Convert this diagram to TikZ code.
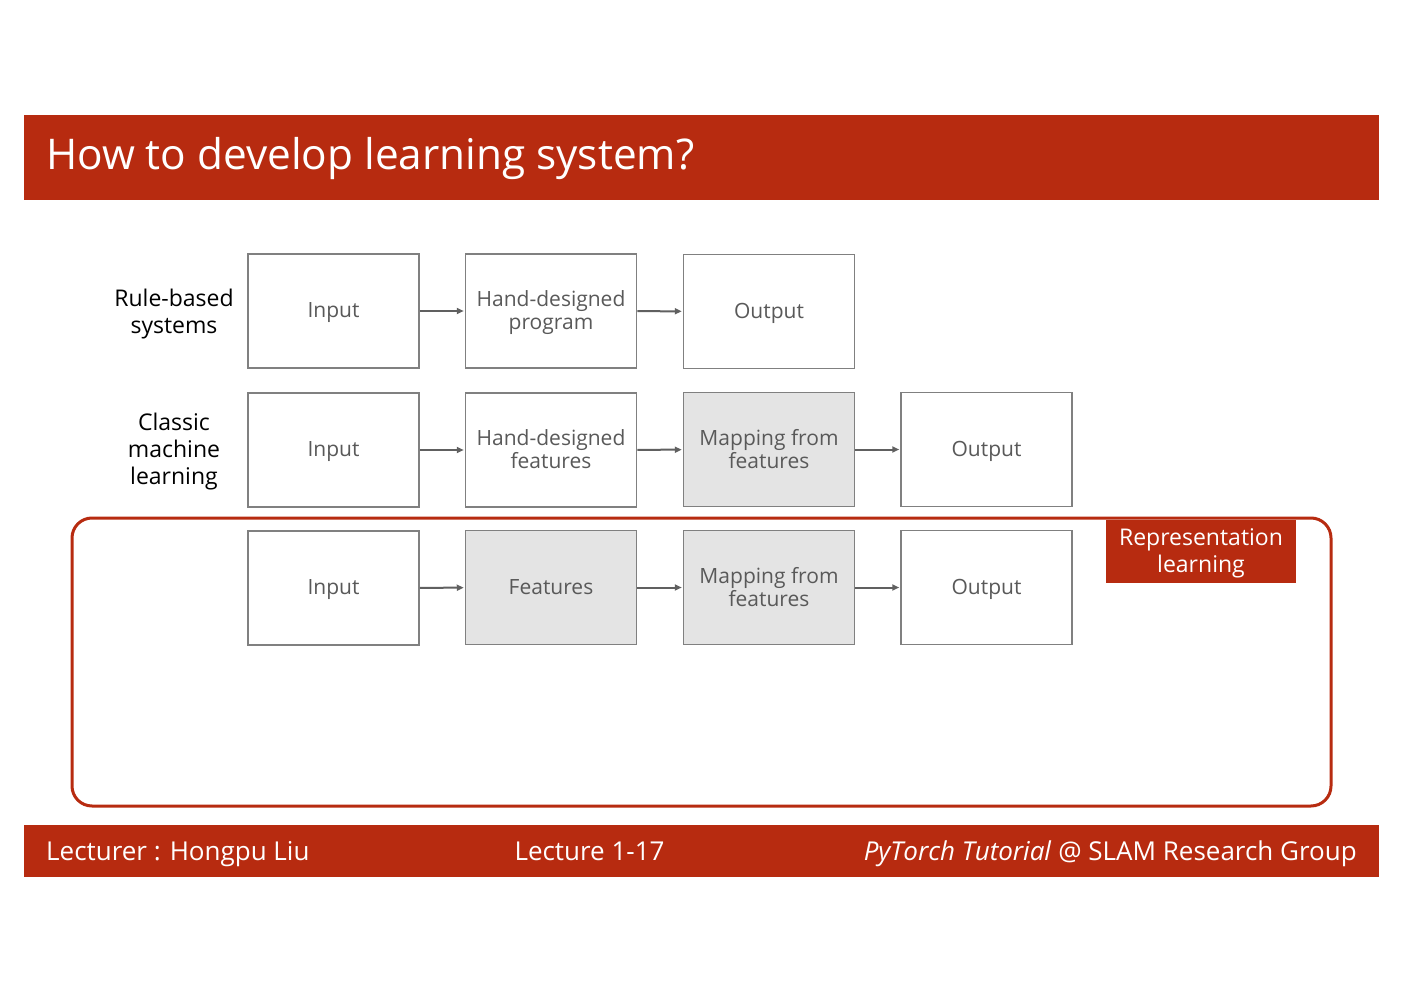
\documentclass[tikz,border=0pt]{standalone}
\usepackage{fontspec}
\setmainfont{Open Sans}
\definecolor{slidered}{RGB}{183,43,16}
\definecolor{boxline}{RGB}{128,128,128}
\definecolor{boxtext}{RGB}{89,89,89}
\definecolor{boxgray}{RGB}{228,228,228}
\definecolor{arrgray}{RGB}{96,96,96}
\usetikzlibrary{arrows.meta}
\begin{document}
\begin{tikzpicture}[x=1pt, y=-1pt,
    blk/.style={draw=boxline, line width=1.5pt, fill=white, minimum width=171pt,
                minimum height=114pt, align=center, text=boxtext,
                font=\fontsize{21}{23}\selectfont, inner sep=0pt, text depth=1pt},
    gblk/.style={blk, fill=boxgray},
    lbl/.style={align=center, font=\fontsize{23}{27}\selectfont},
    arr/.style={-{Triangle[length=7pt, width=6pt]}, draw=arrgray, line width=2pt, shorten >=1pt},
    bartxt/.style={text=white, inner sep=0pt, font=\fontsize{26}{30}\selectfont}
]
\useasboundingbox (0,0) rectangle (1403,992);

% header and footer
\fill[slidered] (24,115) rectangle (1379,200);
\node[bartxt, anchor=base west, font=\fontsize{42.3}{48}\selectfont] (title) at (46,170) {How to develop learning system?};
\fill[slidered] (24,825) rectangle (1379,877);
\node[bartxt, anchor=base west] (lect) at (46,860) {Lecturer : Hongpu Liu};
\node[bartxt, anchor=base] (num) at (589.5,860) {Lecture 1-17};
\node[bartxt, anchor=base east] (grp) at (1357,860) {\textit{PyTorch Tutorial} @ SLAM Research Group};

% representation learning frame
\draw[slidered, line width=3pt, rounded corners=20pt] (72,518) rectangle (1331,806);
\node[fill=slidered, text=white, minimum width=190pt, minimum height=63pt, align=center,
      inner sep=0pt, font=\fontsize{23}{27}\selectfont] (rep) at (1201,551.5) {\rule{0pt}{21pt}Representation\\learning};

% row labels
\node[lbl] (rule) at (174,314) {Rule-based\\systems};
\node[lbl] (classic) at (174,452) {Classic\\machine\\learning};

% rule-based row
\node[blk] (inA)  at (333.5,311) {Input};
\node[blk] (prgA) at (551,311) {Hand-designed\\program};
\node[blk] (outA) at (769,311.5) {Output};

% classic machine learning row
\node[blk]  (inB)  at (333.5,450) {Input};
\node[blk]  (hfB)  at (551,450) {Hand-designed\\features};
\node[gblk] (mapB) at (769,449.5) {Mapping from\\features};
\node[blk]  (outB) at (986.5,449.5) {Output};

% representation learning row
\node[blk]  (inC)  at (333.5,588) {Input};
\node[gblk] (ftC)  at (551,587.5) {Features};
\node[gblk] (mapC) at (769,587.5) {Mapping from\\features};
\node[blk]  (outC) at (986.5,587.5) {Output};

\draw[arr] (inA) -- (prgA);
\draw[arr] (prgA) -- (outA);
\draw[arr] (inB) -- (hfB);
\draw[arr] (hfB) -- (mapB);
\draw[arr] (mapB) -- (outB);
\draw[arr] (inC) -- (ftC);
\draw[arr] (ftC) -- (mapC);
\draw[arr] (mapC) -- (outC);
\end{tikzpicture}
\end{document}
